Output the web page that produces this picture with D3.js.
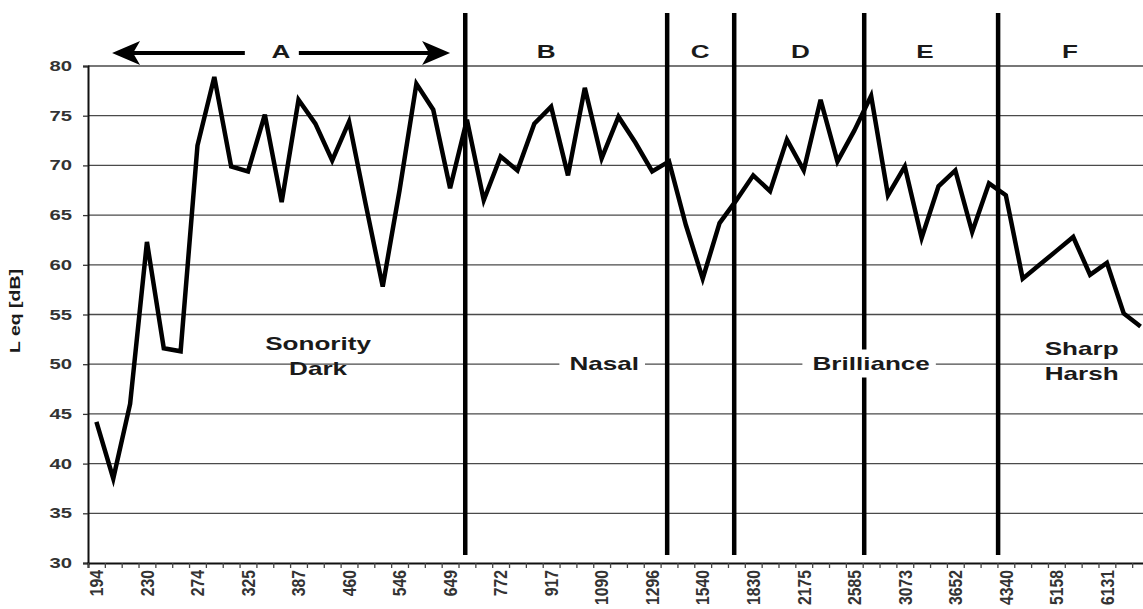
<!DOCTYPE html>
<html>
<head>
  <title>Leq by frequency</title>
  <script src="https://d3js.org/d3.v7.min.js"></script>
  <style>
    body { margin: 0; background: #fff; }
    text { font-family: "Liberation Sans", Arial, sans-serif; font-weight: bold; fill: #1a1a1a; }
  </style>
</head>
<body>
  <div id="chart"></div>

  <script>
    // 1/12 octave bands (Hz), one per category
    const freqs = [194, 205, 218, 230, 244, 259, 274, 290, 308, 325,
                   345, 365, 387, 410, 434, 460, 487, 516, 546, 579,
                   613, 649, 688, 729, 772, 818, 866, 917, 972, 1029,
                   1090, 1155, 1223, 1296, 1373, 1454, 1540, 1632, 1729, 1830,
                   1939, 2054, 2175, 2304, 2441, 2585, 2739, 2901, 3073, 3255,
                   3448, 3652, 3869, 4099, 4340, 4598, 4871, 5158, 5465, 5789,
                   6131, 6495, 6881];

    // L eq [dB] per band
    const leq = [44.2, 38.5, 46, 62.3, 51.6, 51.3, 72, 78.9, 69.9, 69.4,
                 75.1, 66.3, 76.6, 74.2, 70.5, 74.4, 66, 57.8, 67.5, 78.2,
                 75.6, 67.7, 74.6, 66.5, 70.9, 69.5, 74.2, 75.9, 69.0, 77.8,
                 70.7, 74.9, 72.3, 69.4, 70.4, 64, 58.6, 64.2, 66.5, 69.0,
                 67.4, 72.6, 69.5, 76.6, 70.4, 73.5, 77.0, 67.0, 69.9, 62.7,
                 67.9, 69.5, 63.3, 68.2, 67.0, 58.6, 60.0, 61.4, 62.8, 59.0,
                 60.2, 55.1, 53.8];

    const yTicks = [30, 35, 40, 45, 50, 55, 60, 65, 70, 75, 80];

    // zone boundaries and labels, in category index units
    const bandEdges = [21.9, 33.89, 37.87, 45.59, 53.54];
    const bandLetters = ["A", "B", "C", "D", "E", "F"];
    const letterPos = [10.95, 26.7, 35.85, 41.8, 49.2, 57.8];
    const arrowA = [0.93, 21.0];
    const zoneNames = [["Sonority", "Dark"], ["Nasal"], ["Brilliance"], ["Sharp", "Harsh"]];
    const zonePos = [13.16, 30.15, 46.0, 58.5];

    const W = 1143, H = 609;
    const plotL = 88, plotR = 1149, plotT = 66, plotB = 563;
    const SX = 1.45; // the type in the original is wide

    const svg = d3.select("#chart").append("svg")
      .attr("width", W).attr("height", H);

    const x = d3.scaleLinear().domain([-0.5, freqs.length - 0.5]).range([plotL, plotR]);
    const y = d3.scaleLinear().domain([30, 80]).range([plotB, plotT]);

    // gridlines
    svg.append("g").selectAll("line")
      .data(yTicks.filter(d => d > 30))
      .join("line")
        .attr("x1", plotL).attr("x2", plotR)
        .attr("y1", d => y(d)).attr("y2", d => y(d))
        .attr("stroke", "#4a4a4a").attr("stroke-width", 1.3);

    // y axis
    const yAxis = svg.append("g")
      .attr("transform", `translate(${plotL},0)`)
      .call(d3.axisLeft(y).tickValues(yTicks).tickSize(5).tickPadding(0).tickFormat(""));
    yAxis.select(".domain").attr("stroke", "#111").attr("stroke-width", 2);
    yAxis.selectAll(".tick line").attr("stroke", "#333").attr("stroke-width", 1.3);

    svg.append("g").selectAll("text")
      .data(yTicks)
      .join("text")
        .attr("transform", d => `translate(72,${y(d)}) scale(${SX},1)`)
        .attr("dy", "0.36em")
        .attr("text-anchor", "end")
        .style("font-size", "14px")
        .style("fill", "#333")
        .text(d => d);

    // x axis: tick marks between categories, labels every third band
    const xAxis = svg.append("g")
      .attr("transform", `translate(0,${plotB})`)
      .call(d3.axisBottom(x)
        .tickValues(d3.range(freqs.length + 1).map(i => i - 0.5))
        .tickSize(5).tickFormat(""));
    xAxis.select(".domain").attr("stroke", "#111").attr("stroke-width", 2);
    xAxis.selectAll(".tick line").attr("stroke", "#444").attr("stroke-width", 1.3);

    svg.append("g").selectAll("text")
      .data(freqs.map((f, i) => ({f, i})).filter(d => d.i % 3 === 0))
      .join("text")
        .attr("transform", d => `translate(${x(d.i)},${plotB + 7}) rotate(-90) scale(1.05,1.25)`)
        .attr("dy", "0.36em")
        .attr("text-anchor", "end")
        .style("font-size", "15px")
        .style("fill", "#333")
        .text(d => d.f);

    // axis title
    svg.append("text")
      .attr("transform", "translate(15,311) rotate(-90) scale(1.3,1)")
      .attr("dy", "0.36em")
      .attr("text-anchor", "middle")
      .style("font-size", "15px")
      .text("L eq [dB]");

    // the measured curve
    svg.append("path")
      .datum(leq)
      .attr("fill", "none")
      .attr("stroke", "#000")
      .attr("stroke-width", 4.5)
      .attr("stroke-linejoin", "miter")
      .attr("d", d3.line().x((d, i) => x(i)).y(d => y(d)));

    // zone boundaries
    svg.append("g").selectAll("line")
      .data(bandEdges)
      .join("line")
        .attr("x1", d => x(d)).attr("x2", d => x(d))
        .attr("y1", 13).attr("y2", 555)
        .attr("stroke", "#000").attr("stroke-width", 4.5);

    // zone letters
    svg.append("g").selectAll("text")
      .data(bandLetters)
      .join("text")
        .attr("transform", (d, i) => `translate(${x(letterPos[i])},58) scale(${SX},1)`)
        .attr("text-anchor", "middle")
        .style("font-size", "18px")
        .text(d => d);

    // double arrow across zone A
    const aMid = x(letterPos[0]);
    const arrowY = 53;
    const arr = svg.append("g").attr("stroke", "#000").attr("stroke-width", 4);
    arr.append("line").attr("x1", x(arrowA[0]) + 10).attr("x2", aMid - 36)
      .attr("y1", arrowY).attr("y2", arrowY);
    arr.append("line").attr("x1", aMid + 18).attr("x2", x(arrowA[1]) - 10)
      .attr("y1", arrowY).attr("y2", arrowY);
    const head = (tip, dir) => {
      const b = tip + dir * 28;
      return `M${tip},${arrowY} L${b},${arrowY - 12} L${b - dir * 7},${arrowY} L${b},${arrowY + 12} Z`;
    };
    svg.append("path").attr("d", head(x(arrowA[0]), 1)).attr("fill", "#000");
    svg.append("path").attr("d", head(x(arrowA[1]), -1)).attr("fill", "#000");

    // zone descriptions
    const zoneY = [[350, 375], [369.5], [369.5], [355, 380]];
    const boxed = [false, true, true, false];
    zoneNames.forEach((lines, z) => {
      lines.forEach((t, k) => {
        const g = svg.append("g")
          .attr("transform", `translate(${x(zonePos[z])},${zoneY[z][k]}) scale(${SX},1)`);
        const bg = g.append("rect").attr("fill", "#fff");
        const txt = g.append("text")
          .attr("text-anchor", "middle")
          .style("font-size", "18px")
          .text(t);
        if (boxed[z]) {
          const bb = txt.node().getBBox();
          bg.attr("x", bb.x - 10 / SX).attr("width", bb.width + 16 / SX)
            .attr("y", -20).attr("height", 28);
        } else {
          bg.remove();
        }
      });
    });
  </script>
</body>
</html>
